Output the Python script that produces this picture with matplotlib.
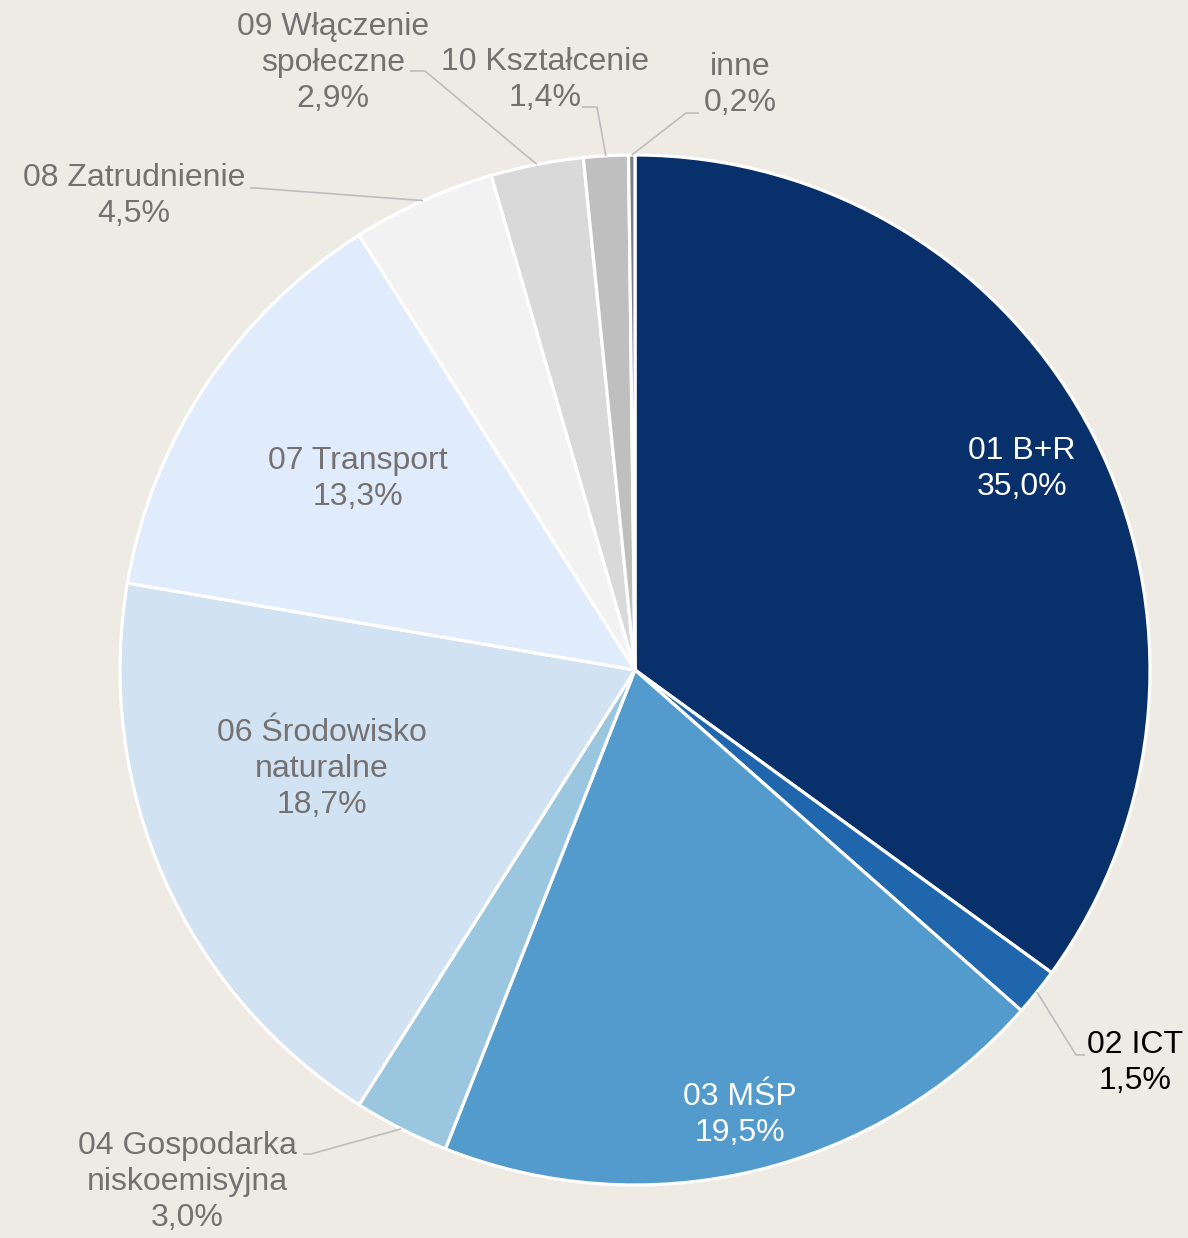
import numpy as np
import matplotlib
matplotlib.use("Agg")
import matplotlib.pyplot as plt

plt.rcParams['font.family'] = ['Liberation Sans', 'DejaVu Sans']

# data
categories = ["01 B+R", "02 ICT", "03 MŚP", "04 Gospodarka\nniskoemisyjna",
              "06 Środowisko\nnaturalne", "07 Transport", "08 Zatrudnienie",
              "09 Włączenie\nspołeczne", "10 Kształcenie", "inne"]
shares = [35.0, 1.5, 19.5, 3.0, 18.7, 13.3, 4.5, 2.9, 1.4, 0.2]
colors = ["#08306b", "#1f66ad", "#549bcd", "#9bc6df", "#d1e2f2",
          "#e0ebfc", "#f2f2f2", "#d9d9d9", "#bfbfbf", "#7f7f7f"]
text_colors = ["white", "black", "white", "#757171", "#757171",
               "#757171", "#757171", "#757171", "#757171", "#757171"]

# layout (pixel coords, y from top)
W, H = 1188, 1238
label_pos = [(1022, 469), (1135, 1063), (740, 1115), (187, 1182), (322, 769),
             (358, 479), (134, 196), (333, 63), (545, 80), (740, 85)]
# leader line: [text end, elbow] -> wedge edge
leaders = {1: [(1085, 1055), (1076, 1055)],
           3: [(303, 1154), (311, 1154)],
           6: [(250, 188), (255, 188)],
           7: [(410, 71), (425, 71)],
           8: [(582, 107), (597, 107)],
           9: [(699, 113), (686, 113)]}

fig = plt.figure(figsize=(W / 100, H / 100), dpi=100)
fig.patch.set_facecolor("#eeebe5")
ax = fig.add_axes([0, 0, 1, 1])
ax.set_facecolor("#eeebe5")

cx, cy, r = 635, H - 670, 515
wedges, _ = ax.pie(shares, colors=colors, startangle=90, counterclock=False,
                   center=(cx, cy), radius=r,
                   wedgeprops=dict(edgecolor="white", linewidth=2.3))
ax.set_xlim(0, W)
ax.set_ylim(0, H)
ax.axis("off")

for i, w in enumerate(wedges):
    if i in leaders:
        mid = np.deg2rad((w.theta1 + w.theta2) / 2)
        ex, ey = cx + r * np.cos(mid), cy + r * np.sin(mid)
        pts = leaders[i]
        xs = [p[0] for p in pts] + [ex]
        ys = [H - p[1] for p in pts] + [ey]
        ax.plot(xs, ys, color="#bdbdbd", lw=1.2, zorder=1, solid_capstyle="butt")
    txt = f"{categories[i]}\n{shares[i]:.1f}%".replace(".", ",")
    x, y = label_pos[i]
    ax.text(x, H - y, txt, ha="center", va="center", ma="center",
            fontsize=23, color=text_colors[i], linespacing=1.24)

fig.savefig("out.png", dpi=100, facecolor=fig.get_facecolor())
